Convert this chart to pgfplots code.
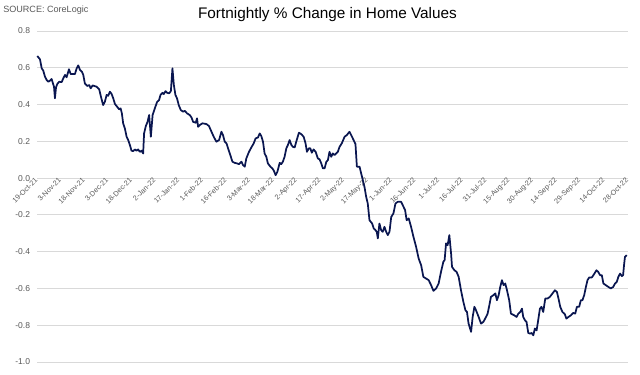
\documentclass[border=0pt]{standalone}
\usepackage{fontspec}
\setmainfont{Liberation Sans}
\usepackage{pgfplots}
\pgfplotsset{compat=1.18}
\definecolor{navy}{RGB}{10,22,80}
\definecolor{gridc}{RGB}{217,217,217}
\definecolor{labc}{RGB}{89,89,89}
\begin{document}
\begin{tikzpicture}
\path[use as bounding box] (0,0) rectangle (480pt,281.25pt);
\node[anchor=west, inner sep=0pt, text=labc, font=\fontsize{6.8}{8}\selectfont] at (2.25pt,273.75pt) {SOURCE: CoreLogic};
\node[anchor=center, inner sep=0pt, font=\fontsize{11.5}{13}\selectfont] at (245.6pt,270pt) {Fortnightly \% Change in Home Values};
\begin{axis}[
  at={(27.975pt,9.75pt)}, anchor=south west,
  scale only axis, width=443pt, height=248.25pt,
  xmin=0, xmax=375, ymin=-1, ymax=0.8,
  axis x line=middle, axis y line=left,
  hide obscured x ticks=false, hide obscured y ticks=false,
  axis line style={-},
  x axis line style={draw=gridc, line width=0.6pt},
  y axis line style={draw=none},
  major tick length=0pt,
  ytick={-1,-0.8,-0.6,-0.4,-0.2,0,0.2,0.4,0.6,0.8},
  ymajorgrids, grid style={draw=gridc, line width=0.6pt},
  /pgf/number format/assume math mode=true,
  yticklabel style={font=\fontsize{6.4}{7}\selectfont, text=labc, anchor=east, inner sep=0pt, xshift=-5.25pt,
    /pgf/number format/fixed, /pgf/number format/fixed zerofill, /pgf/number format/precision=1},
  xtick={0,15,...,375},
  xticklabels={19-Oct-21,3-Nov-21,18-Nov-21,3-Dec-21,18-Dec-21,2-Jan-22,17-Jan-22,1-Feb-22,16-Feb-22,3-Mar-22,18-Mar-22,2-Apr-22,17-Apr-22,2-May-22,17-May-22,1-Jun-22,16-Jun-22,1-Jul-22,16-Jul-22,31-Jul-22,15-Aug-22,30-Aug-22,14-Sep-22,29-Sep-22,14-Oct-22,28-Oct-22},
  xticklabel style={font=\fontsize{5.4}{6}\selectfont, text=labc, rotate=45, anchor=east, inner sep=1pt},
  clip=false,
]
\addplot[navy, line width=1.3pt, line join=round] coordinates {
(0,0.664)(1.7,0.646)(2.8,0.597)(3.8,0.584)(4.9,0.551)(6.0,0.533)(7.0,0.524)(8.1,0.530)(9.1,0.539)(9.8,0.519)
(10.6,0.497)(11.2,0.434)(11.9,0.494)(12.7,0.512)(13.9,0.524)(15.5,0.522)(16.5,0.543)(17.6,0.561)(18.6,0.548)(20.1,0.592)
(21.2,0.566)(22.4,0.566)(23.9,0.566)(25.0,0.597)(26.0,0.613)(27.1,0.588)(28.3,0.579)(29.2,0.561)(30.2,0.515)(31.7,0.501)
(33.0,0.506)(33.9,0.488)(35.1,0.504)(37.7,0.497)(39.3,0.483)(40.4,0.443)(41.8,0.397)(42.9,0.415)(44.0,0.452)(45.0,0.448)
(46.1,0.470)(47.2,0.457)(48.2,0.434)(49.3,0.403)(50.7,0.388)(52.0,0.374)(52.9,0.379)(53.7,0.352)(54.5,0.298)(55.6,0.270)
(56.7,0.225)(57.7,0.207)(58.8,0.180)(59.8,0.149)(60.9,0.147)(61.9,0.156)(63.0,0.149)(64.0,0.156)(65.1,0.143)(66.2,0.149)
(67.2,0.134)(67.8,0.243)(68.9,0.283)(70.0,0.306)(71.0,0.343)(72.1,0.225)(73.2,0.343)(74.6,0.379)(76.1,0.415)(77.3,0.424)
(78.2,0.452)(79.5,0.464)(80.3,0.457)(81.4,0.473)(82.4,0.464)(83.7,0.461)(84.8,0.473)(85.8,0.597)(86.7,0.506)(87.7,0.452)
(88.7,0.434)(89.8,0.397)(91.1,0.370)(92.6,0.361)(93.6,0.366)(95.1,0.352)(96.8,0.343)(97.9,0.330)(98.9,0.306)(100.6,0.301)
(101.4,0.325)(102.1,0.279)(103.1,0.288)(104.8,0.298)(107.4,0.294)(109.0,0.283)(110.6,0.252)(112.0,0.225)(113.7,0.198)(115.4,0.207)
(116.9,0.252)(117.9,0.234)(119.0,0.198)(120.1,0.189)(122.2,0.134)(123.9,0.089)(125.3,0.083)(126.8,0.080)(128.0,0.076)(129.6,0.089)
(130.6,0.071)(131.7,0.062)(132.7,0.107)(134.4,0.143)(135.9,0.167)(137.4,0.189)(138.6,0.216)(140.1,0.221)(141.2,0.243)(142.2,0.229)
(143.3,0.198)(144.3,0.134)(145.4,0.116)(146.4,0.080)(148.0,0.062)(149.2,0.053)(150.2,0.040)(151.3,0.016)(152.4,0.034)(153.9,0.083)
(154.9,0.076)(155.9,0.089)(157.0,0.116)(158.1,0.162)(159.1,0.180)(160.2,0.207)(161.3,0.180)(162.3,0.170)(163.4,0.167)(164.4,0.198)
(166.1,0.247)(167.6,0.239)(169.1,0.225)(170.3,0.189)(171.2,0.143)(172.4,0.162)(173.3,0.162)(174.3,0.138)(175.4,0.156)(176.7,0.143)
(178.1,0.107)(179.2,0.102)(180.3,0.080)(181.3,0.053)(182.4,0.053)(183.5,0.089)(184.5,0.098)(185.5,0.143)(186.6,0.116)(187.6,0.134)
(188.7,0.125)(190.8,0.143)(191.9,0.170)(193.3,0.189)(195.1,0.225)(196.5,0.234)(198.2,0.252)(200.3,0.216)(202.0,0.185)(202.9,0.062)
(204.6,0.062)(205.6,0.026)(207.7,-0.047)(208.8,-0.102)(209.8,-0.138)(210.9,-0.229)(212.6,-0.247)(213.6,-0.274)(214.7,-0.283)(215.5,-0.292)
(216.2,-0.328)(217.2,-0.247)(218.3,-0.283)(219.3,-0.292)(220.4,-0.265)(221.5,-0.292)(222.5,-0.310)(223.6,-0.292)(224.7,-0.211)(226.1,-0.192)
(227.4,-0.138)(228.8,-0.129)(231.0,-0.129)(232.0,-0.147)(233.5,-0.174)(234.5,-0.229)(235.8,-0.219)(237.3,-0.265)(238.8,-0.319)(240.5,-0.374)
(242.1,-0.437)(243.7,-0.474)(245.1,-0.537)(246.8,-0.546)(248.5,-0.555)(250.0,-0.582)(251.5,-0.613)(253.2,-0.600)(254.8,-0.573)(256.3,-0.510)
(257.8,-0.455)(258.6,-0.446)(259.5,-0.355)(260.5,-0.365)(261.6,-0.310)(262.7,-0.410)(263.3,-0.483)(264.8,-0.501)(266.2,-0.510)(267.5,-0.537)
(269.0,-0.610)(270.5,-0.673)(271.8,-0.718)(272.8,-0.728)(273.8,-0.791)(275.4,-0.836)(276.4,-0.755)(277.5,-0.700)(278.5,-0.718)(280.2,-0.755)
(281.7,-0.791)(283.2,-0.782)(284.9,-0.755)(285.9,-0.737)(287.0,-0.691)(288.0,-0.646)(289.5,-0.637)(290.8,-0.627)(291.8,-0.664)(292.9,-0.637)
(293.9,-0.592)(295.0,-0.555)(296.0,-0.582)(297.1,-0.573)(298.2,-0.610)(299.6,-0.664)(300.7,-0.737)(302.8,-0.746)(304.3,-0.755)(305.4,-0.737)
(306.6,-0.728)(307.7,-0.710)(308.5,-0.755)(309.6,-0.773)(310.6,-0.782)(311.7,-0.842)(312.8,-0.846)(313.8,-0.842)(314.9,-0.855)(315.9,-0.818)
(317.0,-0.828)(318.0,-0.773)(319.1,-0.710)(320.1,-0.700)(321.2,-0.728)(322.5,-0.655)(323.9,-0.655)(325.4,-0.646)(327.1,-0.627)(328.6,-0.610)
(329.9,-0.619)(330.9,-0.655)(332.0,-0.700)(333.4,-0.728)(334.9,-0.740)(335.9,-0.764)(337.2,-0.755)(338.8,-0.746)(340.2,-0.733)(341.5,-0.737)
(342.6,-0.700)(344.0,-0.700)(345.1,-0.664)(346.1,-0.664)(347.2,-0.637)(348.3,-0.592)(349.3,-0.555)(350.4,-0.540)(352.1,-0.540)(353.5,-0.522)
(355.0,-0.501)(356.1,-0.510)(357.3,-0.528)(358.4,-0.528)(359.4,-0.573)(360.9,-0.582)(362.6,-0.592)(364.1,-0.600)(365.6,-0.592)(366.8,-0.573)
(367.9,-0.564)(368.9,-0.537)(370.0,-0.519)(371.1,-0.533)(371.9,-0.528)(372.5,-0.474)(373.1,-0.428)(374.2,-0.419)
};
\end{axis}
\end{tikzpicture}
\end{document}
